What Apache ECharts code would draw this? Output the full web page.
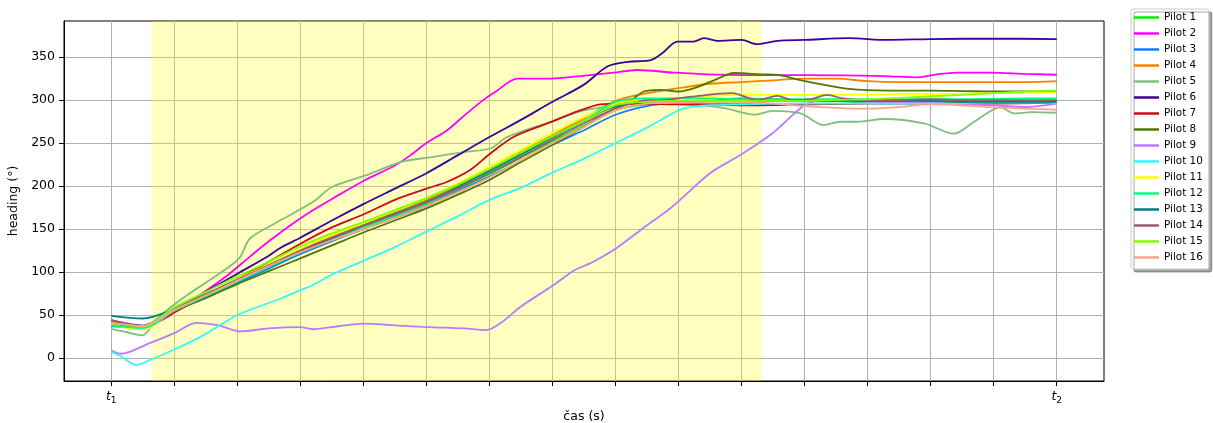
<!DOCTYPE html>
<html>
<head>
<meta charset="utf-8">
<script src="https://cdn.jsdelivr.net/npm/echarts@6/dist/echarts.min.js"></script>
<style>
html,body{margin:0;padding:0;background:#fff;}
#chart{width:1213px;height:423px;}
</style>
</head>
<body>
<div id="chart"></div>
<script>
// ---------- data ----------
const pilotNames = ['Pilot 1','Pilot 2','Pilot 3','Pilot 4','Pilot 5','Pilot 6','Pilot 7','Pilot 8',
  'Pilot 9','Pilot 10','Pilot 11','Pilot 12','Pilot 13','Pilot 14','Pilot 15','Pilot 16'];
const pilotColors = ['#00f000','#ff00ff','#0a80ff','#ff7f00','#80bf80','#4000a0','#cc0a1e','#507800',
  '#bb7aff','#33f8ff','#ffff00','#00ff80','#008080','#9e5a6f','#80ff00','#fca58a'];

// common time grid (units of tick spacing, t1 = 0, t2 = 15)
const T = [0,0.5,1,1.5,2,2.5,3,3.5,4,4.5,5,5.5,6,6.5,7,7.5,8,8.5,9,9.5,10,10.5,11,11.5,12,12.5,13,13.5,14,14.5,15];

const pilot1 = [40,35,55,71,88,105,122,137,151,165,179,196,214,233,252,270,288,295,296,296,296,295,296,296,297,297,297,297,297,297,297];
const pilot2 = [[0,40],[0.5,36],[0.9,48],[1.04,56],[1.36,71],[1.84,96],[2.2,118],[2.52,137],[2.95,160],[3.2,172],[3.5,185],[4,206],[4.5,224],[4.75,236],[5,250],[5.33,265],[5.6,282],[5.9,300],[6.12,311],[6.44,325],[6.97,325],[7.44,328],[7.97,332],[8.34,335],[8.92,332],[9.45,330],[10.5,329],[11,329],[12.26,328],[12.79,326.5],[13.1,330],[13.42,332],[13.95,332],[14.5,330.5],[15,329.5]];
const pilot3 = [37,36,55,70,87,104,121,136,150,163,177,194,211,229,248,265,283,293,297,299,302,301,300,299,299,299,299,298,298,298,299];
const pilot4 = [42,37,57,74,91,108,126,141,155,170,184,201,220,240,259,279,299,308,314,319,321,323,325,325,322,321,321,321,321,321,322];
const pilot5 = [[0,34],[0.25,30],[0.5,26.5],[0.7,44],[0.96,60],[1.2,73],[1.57,91],[1.94,110],[2.05,118],[2.2,139],[2.63,158],[3.21,182],[3.5,199],[4.06,213],[4.59,228],[5.11,234],[5.54,239],[6.02,244],[6.28,257],[7.02,276],[7.5,288],[7.97,293],[8.5,296],[9,296],[9.5,293],[9.77,290],[10.2,283],[10.5,287.5],[10.94,284.5],[11.3,271],[11.57,274.8],[11.84,274.8],[12.26,278],[12.89,273],[13.37,261],[13.69,274.8],[14.11,291.5],[14.32,284.5],[14.6,286],[15,285.3]];
const pilot6 = [[0,41],[0.5,37],[1,56],[1.5,77],[2,98],[2.5,119],[2.68,128],[3,140],[3.5,160],[4,179],[4.5,197],[5,215],[5.5,236],[6,257],[6.5,277],[7,298],[7.5,318],[7.87,339],[8.2,344.5],[8.56,346.5],[8.75,355],[8.98,368],[9.24,368],[9.4,372],[9.61,369],[10,370],[10.25,365],[10.57,369],[11,370],[11.7,372],[12.3,370],[13,371],[14,371.5],[15,371]];
const pilot7 = [[0,44],[0.5,37],[1,53],[1.5,73],[2,92],[2.5,112],[3,133],[3.5,152],[4,167],[4.5,184],[5,197],[5.33,205],[5.7,219],[6,237],[6.38,257],[6.92,273],[7.44,288],[7.76,295],[8.13,296],[9,295],[10,294],[11,295],[12,296],[13,296],[14,296],[15,297]];
const pilot8 = [[0,41],[0.5,36],[1,55],[1.5,70],[2,86],[2.5,101],[3,116],[3.5,131],[4,146],[4.5,160],[5,174],[5.5,190],[6,207],[6.5,228],[7,248],[7.5,269],[8,291],[8.25,300],[8.45,310],[8.7,312],[9,310],[9.25,314],[9.56,323],[9.88,331.5],[10.3,330],[10.6,329],[10.95,323],[11.36,317],[11.7,313],[12,311.5],[12.5,311],[13,311],[13.5,310.5],[14,310],[14.5,310],[15,309.5]];
const pilot9 = [[0,9],[0.15,5],[0.6,17],[1,29],[1.35,41],[1.7,38],[2.05,31],[2.5,34.5],[3,36],[3.2,33.5],[3.6,37],[4,40],[4.5,38],[5,36],[5.6,34.5],[5.95,32.5],[6.2,42],[6.5,60],[7,84],[7.35,102],[7.65,112],[8,127],[8.4,149],[8.9,176],[9.5,215],[10,237],[10.5,262],[11,294],[11.3,300],[12,298],[12.5,297],[13,297],[13.5,295],[14,294],[14.5,292],[15,296]];
const pilot10 = [[0,7],[0.15,2],[0.4,-8],[0.62,-2],[1,10],[1.4,24],[2,50],[2.2,56],[2.68,69],[3,79],[3.2,85],[3.5,97],[4,113],[4.5,129],[5,147],[5.5,165],[6,184],[6.5,198],[6.92,213],[7.5,232],[8,250],[8.5,268],[9,288],[9.2,292],[9.5,294],[10,295],[10.5,296],[11,296],[12,296],[13,296],[14,297],[15,297]];
const pilot11 = [39,33,56,74,92,109,127,143,157,171,186,203,222,242,262,280,296,300,302,305,306,306,306,306,306.5,307,307,307.5,308,308.5,309];
const pilot12 = [38,35,55,72,89,106,123,138,152,166,180,197,216,236,256,276,298,302,302,302,301,301,301,301,301,301,301,301,301.5,302,302];
const pilot13 = [49,46,57,74,91,107,124,139,154,168,182,199,218,237,257,276,293,298,298,299,299,299,299,299,299,299,299,298,298,298,298];
const pilot14 = [[0,44],[0.5,38],[1,57],[1.5,74],[2,91],[2.5,108],[3,125],[3.5,140],[4,154],[4.5,167],[5,181],[5.5,197],[6,215],[6.5,234],[7,254],[7.5,273],[8,290],[8.5,300],[8.7,300],[9.2,304],[9.85,308],[10.25,300],[10.57,305],[10.8,300],[11.1,301],[11.36,306],[11.6,302],[12,300],[12.5,300],[13,301],[13.5,300],[14,300],[14.5,300],[15,300]];
const pilot15 = [41,37,59,77,95,112,130,145,158,172,186,202,220,239,258,276,294,298,299,299,299,299,299,300,301,302.5,304.5,306,308,310,311];
const pilot16 = [41,37,56,73,90,107,123,137,150,163,177,193,210,230,250,269,288,296,297,298,298,296,293,291,290,292,295,294,291.5,290,289];

const pilotData = [pilot1,pilot2,pilot3,pilot4,pilot5,pilot6,pilot7,pilot8,pilot9,pilot10,pilot11,pilot12,pilot13,pilot14,pilot15,pilot16];

// axes
const xTickValues = [0,1,2,3,4,5,6,7,8,9,10,11,12,13,14,15];
const xLabelValues = [0,15];
const xLabelSubs = ['1','2'];
const yTickValues = [0,50,100,150,200,250,300,350];
const shadedSpan = [0.635, 10.317];
const xRange = [-0.75, 15.75];
const yRange = [-26.7, 392];

// ---------- chart ----------
const chart = echarts.init(document.getElementById('chart'), null, {renderer:'canvas'});
const FONT = 'DejaVu Sans';

const series = pilotData.map((d, i) => {
  const data = (typeof d[0] === 'number') ? d.map((v, k) => [T[k], v]) : d;
  const s = {
    name: pilotNames[i],
    type: 'line',
    data: data,
    showSymbol: false,
    symbol: 'none',
    smooth: 0.3,
    lineStyle: {width: 1.8, color: pilotColors[i]},
    itemStyle: {color: pilotColors[i]},
    emphasis: {disabled: true},
    animation: false
  };
  if (i === 0) {
    s.markArea = {
      silent: true,
      itemStyle: {color: 'rgba(255,255,0,0.25)'},
      data: [[{xAxis: shadedSpan[0]}, {xAxis: shadedSpan[1]}]]
    };
  }
  return s;
});

chart.setOption({
  animation: false,
  backgroundColor: '#fff',
  textStyle: {fontFamily: FONT},
  grid: {left: 64, top: 21, right: 109, bottom: 42, show: true, borderColor: '#000', borderWidth: 1,
    backgroundColor: 'transparent', containLabel: false, outerBoundsMode: 'none'},
  legend: {
    orient: 'vertical',
    left: 1131,
    top: 9,
    data: pilotNames,
    icon: 'rect',
    itemWidth: 25,
    itemHeight: 2.5,
    itemGap: 3,
    padding: [2, 6, 5, 3],
    backgroundColor: '#fff',
    borderColor: '#cccccc',
    borderWidth: 1,
    borderRadius: 2,
    shadowColor: 'rgba(0,0,0,0.35)',
    shadowOffsetX: 3,
    shadowOffsetY: 3,
    shadowBlur: 0,
    selectedMode: false,
    textStyle: {fontFamily: FONT, fontSize: 10.4, color: '#000', lineHeight: 13}
  },
  xAxis: {
    type: 'value',
    min: xRange[0], max: xRange[1],
    name: 'čas (s)',
    nameLocation: 'middle',
    nameGap: 26,
    nameTextStyle: {fontFamily: FONT, fontSize: 12.5, color: '#000'},
    axisLine: {show: true, onZero: false, lineStyle: {color: '#000', width: 1}},
    axisTick: {show: true, inside: false, length: 5, customValues: xTickValues, lineStyle: {color: '#000'}},
    axisLabel: {
      customValues: xLabelValues,
      margin: 7,
      formatter: function (v) {
        const idx = xLabelValues.indexOf(v);
        return '{t|t}{s|' + xLabelSubs[idx] + '}';
      },
      rich: {
        t: {fontFamily: FONT, fontStyle: 'italic', fontSize: 12.5, color: '#000'},
        s: {fontFamily: FONT, fontSize: 9, color: '#000', padding: [8, 0, 0, 0]}
      }
    },
    splitLine: {show: true, lineStyle: {color: '#b0b0b0', width: 1}}
  },
  yAxis: {
    type: 'value',
    min: yRange[0], max: yRange[1],
    name: 'heading (°)',
    nameLocation: 'middle',
    nameGap: 36,
    nameTextStyle: {fontFamily: FONT, fontSize: 12.5, color: '#000'},
    axisLine: {show: true, onZero: false, lineStyle: {color: '#000', width: 1}},
    axisTick: {show: true, inside: false, length: 5, customValues: yTickValues, lineStyle: {color: '#000'}},
    axisLabel: {customValues: yTickValues, margin: 9, fontFamily: FONT, fontSize: 12.5, color: '#000'},
    splitLine: {show: true, lineStyle: {color: '#b0b0b0', width: 1}}
  },
  series: series
});
</script>
</body>
</html>
